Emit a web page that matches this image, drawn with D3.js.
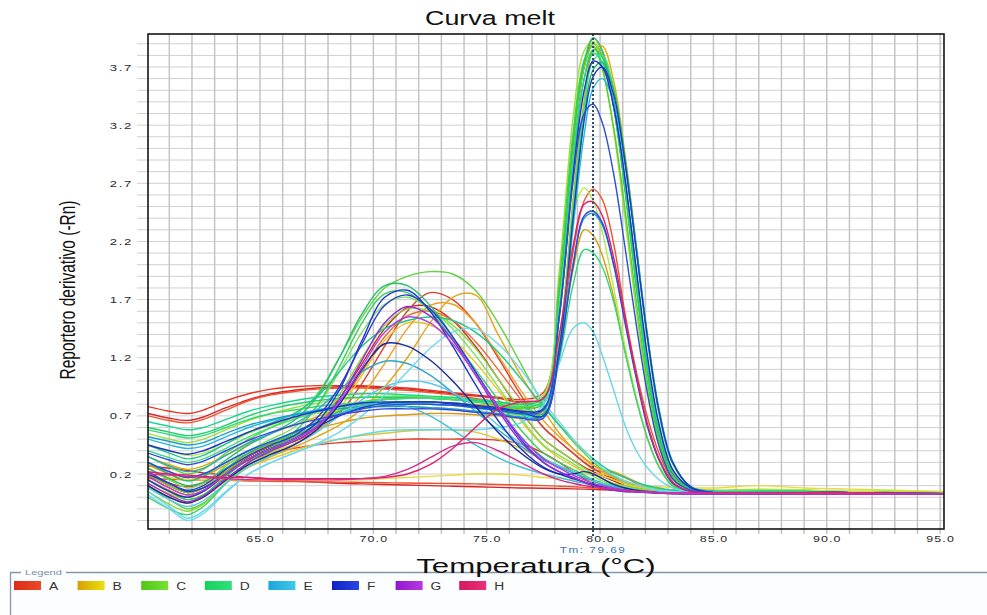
<!DOCTYPE html>
<html>
<head>
<meta charset="utf-8">
<script src="https://cdn.jsdelivr.net/npm/d3@7"></script>
<style>
  html, body { margin: 0; padding: 0; background: #fff; }
  svg { display: block; font-family: Arial, "Liberation Sans", sans-serif; }
</style>
</head>
<body>
<svg id="chart" width="987" height="615"></svg>
<script>
// Temperatures (°C) at which each well's derivative reporter is sampled
const temps = [60.06, 61, 61.8, 62.5, 63.5, 64.5, 65.5, 66.5, 67.5, 68.5, 69.5, 70.5, 71.5, 72.5, 73.5, 74.5, 75.5, 76.5,
  77.5, 78.2, 78.8, 79.3, 79.7, 80.1, 80.6, 81.1, 81.6, 82.1, 82.6,
  83.2, 84, 85, 87, 89, 91, 93, 95.17];

const rowLabels = ["A", "B", "C", "D", "E", "F", "G", "H"];
const xTicks = [65, 70, 75, 80, 85, 90, 95];
const yTicks = [0.2, 0.7, 1.2, 1.7, 2.2, 2.7, 3.2, 3.7];
const tm = 79.69;

// Derivative reporter (-Rn) per well, grouped by plate row
const wellsA = [
  [0.78,0.74,0.72,0.75,0.83,0.89,0.93,0.95,0.96,0.96,0.96,0.95,0.94,0.92,0.90,0.88,0.86,0.84, 0.90,1.75,3.00,3.72,3.95,3.84,3.38,2.66,1.82,1.08,0.54, 0.20,0.07,0.04,0.04,0.04,0.04,0.035,0.03],
  [0.72,0.68,0.66,0.69,0.77,0.84,0.89,0.92,0.94,0.95,0.95,0.94,0.93,0.91,0.89,0.87,0.85,0.82, 0.86,1.70,2.95,3.70,3.90,3.80,3.36,2.66,1.85,1.10,0.55, 0.20,0.07,0.04,0.04,0.04,0.04,0.035,0.03],
  [0.70,0.66,0.64,0.67,0.75,0.83,0.88,0.91,0.93,0.94,0.94,0.93,0.92,0.90,0.88,0.85,0.82,0.78, 0.72,1.30,2.10,2.55,2.65,2.56,2.18,1.58,1.08,0.68,0.38, 0.15,0.06,0.04,0.04,0.04,0.04,0.035,0.03],
  [0.20,0.10,0.04,0.08,0.22,0.35,0.44,0.52,0.63,0.85,1.15,1.45,1.63,1.64,1.52,1.30,1.02,0.74, 0.50,0.40,0.32,0.26,0.22,0.18,0.14,0.10,0.08,0.06,0.05, 0.045,0.04,0.04,0.035,0.035,0.03,0.03,0.03],
  [0.15,0.06,0.00,0.05,0.19,0.33,0.42,0.50,0.60,0.80,1.08,1.38,1.56,1.60,1.52,1.34,1.10,0.84, 0.60,0.48,0.38,0.30,0.24,0.22,0.21,0.17,0.12,0.08,0.06, 0.05,0.04,0.04,0.035,0.035,0.03,0.03,0.03],
  [0.20,0.10,0.04,0.08,0.20,0.32,0.41,0.48,0.57,0.72,0.98,1.30,1.60,1.76,1.70,1.50,1.20,0.88, 0.60,0.48,0.38,0.30,0.25,0.20,0.16,0.12,0.10,0.08,0.06, 0.05,0.04,0.04,0.035,0.035,0.03,0.03,0.03],
  [0.18,0.12,0.09,0.12,0.22,0.32,0.38,0.42,0.45,0.47,0.48,0.49,0.50,0.50,0.50,0.50,0.49,0.46, 0.38,0.30,0.22,0.16,0.12,0.09,0.07,0.06,0.05,0.045,0.04, 0.04,0.04,0.035,0.035,0.03,0.03,0.03,0.03],
  [0.27,0.25,0.23,0.21,0.19,0.17,0.155,0.14,0.13,0.12,0.115,0.11,0.105,0.10,0.095,0.09,0.085,0.08, 0.078,0.075,0.072,0.07,0.068,0.065,0.062,0.06,0.058,0.055,0.052, 0.05,0.048,0.045,0.042,0.04,0.038,0.035,0.03],
  [0.16,0.155,0.15,0.148,0.145,0.14,0.138,0.135,0.132,0.13,0.128,0.125,0.122,0.12,0.118,0.115,0.11,0.105, 0.10,0.095,0.09,0.085,0.08,0.075,0.07,0.065,0.06,0.058,0.055, 0.052,0.05,0.048,0.045,0.042,0.04,0.036,0.032]
];
const wellsB = [
  [0.35,0.28,0.24,0.27,0.36,0.46,0.55,0.62,0.69,0.75,0.79,0.81,0.82,0.82,0.81,0.80,0.78,0.75, 0.74,1.35,2.55,3.42,3.84,3.88,3.58,2.95,2.15,1.34,0.72, 0.29,0.09,0.06,0.06,0.06,0.05,0.05,0.04],
  [0.28,0.20,0.15,0.18,0.28,0.38,0.46,0.53,0.59,0.64,0.68,0.70,0.71,0.72,0.72,0.71,0.70,0.68, 0.70,1.25,1.95,2.30,2.25,2.08,1.72,1.25,0.84,0.50,0.26, 0.10,0.05,0.04,0.05,0.05,0.04,0.04,0.035],
  [0.10,0.00,-0.05,0.00,0.15,0.28,0.38,0.46,0.56,0.76,1.05,1.35,1.50,1.48,1.36,1.16,0.92,0.66, 0.44,0.34,0.27,0.22,0.20,0.20,0.18,0.14,0.10,0.07,0.05, 0.045,0.04,0.04,0.04,0.035,0.035,0.03,0.03],
  [0.10,0.00,-0.05,0.00,0.14,0.26,0.35,0.43,0.52,0.62,0.76,0.95,1.20,1.50,1.72,1.74,1.40,1.05, 0.75,0.55,0.42,0.34,0.28,0.22,0.17,0.13,0.10,0.08,0.07, 0.06,0.05,0.05,0.05,0.05,0.04,0.04,0.035],
  [0.18,0.08,0.02,0.06,0.20,0.33,0.42,0.50,0.58,0.70,0.88,1.15,1.45,1.65,1.66,1.50,1.22,0.92, 0.66,0.52,0.42,0.33,0.27,0.24,0.22,0.18,0.13,0.09,0.07, 0.06,0.05,0.05,0.05,0.04,0.04,0.035,0.03],
  [0.20,0.17,0.15,0.15,0.15,0.15,0.15,0.15,0.15,0.15,0.15,0.16,0.17,0.18,0.19,0.20,0.20,0.19, 0.17,0.16,0.15,0.14,0.13,0.12,0.11,0.10,0.09,0.09,0.09, 0.085,0.08,0.08,0.10,0.08,0.07,0.06,0.05],
  [0.12,0.03,-0.02,0.02,0.15,0.26,0.33,0.40,0.46,0.50,0.53,0.55,0.57,0.58,0.58,0.56,0.50,0.42, 0.32,0.26,0.22,0.20,0.20,0.18,0.15,0.12,0.10,0.08,0.07, 0.06,0.05,0.05,0.05,0.045,0.04,0.04,0.035]
];
const wellsC = [
  [0.20,0.10,0.04,0.08,0.22,0.36,0.45,0.55,0.66,0.76,0.82,0.85,0.86,0.86,0.85,0.84,0.82,0.78, 0.82,1.70,2.95,3.70,3.90,3.80,3.36,2.68,1.86,1.12,0.58, 0.22,0.08,0.05,0.05,0.05,0.045,0.04,0.035],
  [0.55,0.50,0.47,0.50,0.58,0.66,0.72,0.77,0.81,0.84,0.86,0.87,0.87,0.86,0.85,0.83,0.81,0.79, 0.88,1.95,3.25,3.84,3.92,3.70,3.15,2.40,1.60,0.92,0.45, 0.16,0.07,0.06,0.07,0.06,0.05,0.05,0.04],
  [0.10,-0.02,-0.10,-0.05,0.12,0.30,0.41,0.50,0.62,0.74,0.81,0.84,0.85,0.85,0.84,0.82,0.79,0.76, 0.84,1.85,3.12,3.76,3.88,3.68,3.18,2.48,1.68,0.98,0.48, 0.17,0.07,0.05,0.05,0.05,0.04,0.04,0.03],
  [0.45,0.40,0.36,0.38,0.46,0.55,0.62,0.68,0.72,0.75,0.77,0.78,0.78,0.77,0.76,0.74,0.72,0.72, 0.85,1.70,2.45,2.66,2.55,2.28,1.80,1.30,0.86,0.50,0.27, 0.11,0.06,0.05,0.06,0.06,0.05,0.05,0.04],
  [0.25,0.15,0.08,0.12,0.27,0.40,0.50,0.60,0.78,1.08,1.42,1.66,1.72,1.62,1.45,1.22,0.95,0.68, 0.45,0.36,0.29,0.23,0.18,0.14,0.11,0.09,0.07,0.06,0.05, 0.045,0.04,0.04,0.04,0.035,0.035,0.03,0.03],
  [0.05,-0.06,-0.12,-0.06,0.12,0.28,0.39,0.49,0.63,0.88,1.20,1.48,1.62,1.60,1.48,1.28,1.02,0.75, 0.50,0.40,0.32,0.25,0.20,0.16,0.12,0.10,0.08,0.06,0.05, 0.045,0.04,0.04,0.04,0.035,0.035,0.03,0.03],
  [0.35,0.26,0.20,0.24,0.38,0.50,0.60,0.70,0.88,1.20,1.55,1.80,1.90,1.94,1.92,1.78,1.50,1.15, 0.80,0.62,0.48,0.38,0.30,0.24,0.18,0.14,0.11,0.09,0.07, 0.06,0.05,0.05,0.05,0.045,0.04,0.04,0.035]
];
const wellsD = [
  [0.60,0.56,0.53,0.55,0.62,0.70,0.76,0.80,0.83,0.85,0.86,0.86,0.86,0.85,0.84,0.83,0.82,0.80, 0.85,1.75,3.05,3.75,3.95,3.84,3.36,2.64,1.80,1.06,0.52, 0.19,0.07,0.04,0.04,0.04,0.04,0.035,0.03],
  [0.15,0.05,-0.02,0.02,0.18,0.33,0.43,0.52,0.63,0.74,0.81,0.84,0.85,0.85,0.84,0.82,0.80,0.77, 0.80,1.60,2.80,3.60,3.85,3.78,3.40,2.74,1.94,1.16,0.60, 0.23,0.08,0.05,0.05,0.05,0.04,0.04,0.03],
  [0.65,0.61,0.58,0.60,0.67,0.74,0.79,0.83,0.86,0.88,0.89,0.89,0.88,0.87,0.86,0.84,0.82,0.80, 0.82,1.60,2.85,3.60,3.82,3.74,3.36,2.72,1.92,1.14,0.58, 0.22,0.08,0.05,0.05,0.05,0.04,0.04,0.03],
  [0.40,0.34,0.30,0.33,0.42,0.52,0.60,0.67,0.73,0.78,0.82,0.84,0.85,0.85,0.84,0.82,0.80,0.77, 0.74,1.32,2.48,3.36,3.76,3.80,3.52,2.90,2.12,1.34,0.72, 0.29,0.09,0.05,0.05,0.05,0.04,0.04,0.03],
  [0.25,0.16,0.10,0.13,0.25,0.38,0.47,0.55,0.64,0.72,0.78,0.81,0.82,0.82,0.81,0.79,0.77,0.74, 0.72,1.28,2.40,3.28,3.68,3.74,3.50,2.92,2.16,1.38,0.75, 0.30,0.09,0.05,0.05,0.05,0.04,0.04,0.03],
  [0.58,0.54,0.51,0.53,0.60,0.67,0.72,0.75,0.78,0.80,0.81,0.81,0.81,0.80,0.79,0.77,0.74,0.71, 0.70,1.18,1.82,2.13,2.10,1.98,1.68,1.25,0.84,0.50,0.26, 0.10,0.05,0.04,0.04,0.04,0.04,0.035,0.03],
  [0.30,0.20,0.14,0.18,0.32,0.45,0.55,0.66,0.86,1.20,1.58,1.82,1.82,1.65,1.38,1.08,0.78,0.52, 0.34,0.27,0.22,0.18,0.15,0.12,0.09,0.07,0.06,0.05,0.045, 0.04,0.04,0.04,0.035,0.035,0.03,0.03,0.03],
  [0.00,-0.10,-0.15,-0.08,0.12,0.30,0.43,0.56,0.78,1.12,1.50,1.75,1.76,1.60,1.36,1.10,0.84,0.58, 0.38,0.30,0.24,0.19,0.15,0.12,0.10,0.08,0.06,0.05,0.045, 0.04,0.04,0.04,0.035,0.035,0.03,0.03,0.03],
  [0.45,0.38,0.33,0.36,0.46,0.56,0.64,0.72,0.86,1.08,1.30,1.45,1.52,1.55,1.52,1.42,1.25,1.02, 0.78,0.62,0.50,0.40,0.33,0.27,0.21,0.17,0.13,0.10,0.08, 0.06,0.05,0.05,0.05,0.045,0.04,0.04,0.035]
];
const wellsE = [
  [0.50,0.45,0.42,0.44,0.52,0.60,0.66,0.71,0.75,0.78,0.80,0.81,0.81,0.80,0.79,0.77,0.75,0.72, 0.70,1.25,2.30,3.12,3.52,3.60,3.40,2.86,2.14,1.38,0.76, 0.31,0.09,0.05,0.04,0.04,0.04,0.035,0.03],
  [0.52,0.48,0.45,0.47,0.55,0.62,0.67,0.71,0.74,0.76,0.78,0.78,0.78,0.77,0.76,0.74,0.72,0.69, 0.70,1.25,2.00,2.40,2.44,2.34,2.00,1.52,1.04,0.62,0.33, 0.13,0.05,0.04,0.04,0.04,0.04,0.035,0.03],
  [0.05,-0.08,-0.18,-0.12,0.05,0.20,0.30,0.38,0.45,0.50,0.54,0.57,0.58,0.58,0.58,0.58,0.60,0.64, 0.80,1.15,1.45,1.50,1.42,1.22,0.92,0.62,0.40,0.25,0.15, 0.08,0.04,0.03,0.03,0.03,0.03,0.03,0.03],
  [0.35,0.27,0.22,0.25,0.36,0.47,0.55,0.63,0.75,0.92,1.08,1.17,1.15,1.05,0.90,0.74,0.58,0.44, 0.32,0.26,0.21,0.17,0.14,0.11,0.09,0.07,0.06,0.05,0.045, 0.04,0.04,0.04,0.035,0.035,0.03,0.03,0.03],
  [0.08,-0.02,-0.08,-0.03,0.12,0.26,0.36,0.45,0.56,0.70,0.84,0.95,1.00,0.98,0.90,0.78,0.62,0.46, 0.33,0.27,0.22,0.18,0.15,0.12,0.10,0.08,0.06,0.05,0.045, 0.04,0.04,0.04,0.035,0.035,0.03,0.03,0.03],
  [0.02,-0.10,-0.20,-0.14,0.04,0.20,0.30,0.38,0.46,0.56,0.70,0.88,1.08,1.28,1.42,1.45,1.32,1.10, 0.82,0.65,0.50,0.40,0.32,0.25,0.19,0.14,0.11,0.08,0.06, 0.05,0.045,0.04,0.04,0.035,0.035,0.03,0.03],
  [0.30,0.22,0.17,0.20,0.30,0.40,0.48,0.56,0.64,0.72,0.78,0.80,0.78,0.70,0.58,0.45,0.34,0.26, 0.20,0.17,0.14,0.12,0.10,0.09,0.07,0.06,0.05,0.045,0.04, 0.04,0.04,0.035,0.035,0.03,0.03,0.03,0.03]
];
const wellsF = [
  [0.45,0.40,0.37,0.40,0.48,0.56,0.63,0.69,0.74,0.78,0.81,0.82,0.82,0.82,0.81,0.79,0.77,0.74, 0.76,1.55,2.75,3.50,3.75,3.70,3.36,2.74,1.96,1.20,0.63, 0.24,0.08,0.04,0.04,0.04,0.04,0.035,0.03],
  [0.20,0.12,0.05,0.08,0.20,0.33,0.42,0.50,0.60,0.70,0.77,0.81,0.82,0.82,0.80,0.78,0.76,0.73, 0.70,1.28,2.38,3.24,3.62,3.70,3.46,2.88,2.12,1.36,0.74, 0.30,0.09,0.04,0.04,0.04,0.04,0.035,0.03],
  [0.30,0.22,0.17,0.20,0.30,0.40,0.48,0.56,0.64,0.71,0.76,0.79,0.80,0.80,0.79,0.77,0.75,0.72, 0.75,1.55,2.70,3.30,3.38,3.22,2.78,2.15,1.48,0.88,0.44, 0.16,0.06,0.04,0.04,0.04,0.04,0.035,0.03],
  [0.38,0.32,0.28,0.31,0.40,0.49,0.56,0.62,0.67,0.71,0.74,0.76,0.76,0.76,0.75,0.73,0.71,0.68, 0.68,1.22,1.98,2.42,2.46,2.36,2.00,1.50,1.02,0.60,0.32, 0.12,0.05,0.04,0.04,0.04,0.04,0.035,0.03],
  [0.15,0.05,0.00,0.05,0.20,0.33,0.42,0.50,0.64,0.92,1.35,1.72,1.78,1.60,1.30,0.97,0.66,0.42, 0.26,0.20,0.16,0.13,0.11,0.09,0.07,0.06,0.05,0.045,0.04, 0.035,0.03,0.03,0.03,0.03,0.03,0.03,0.03],
  [0.10,0.00,-0.05,0.00,0.15,0.28,0.37,0.45,0.58,0.80,1.10,1.32,1.30,1.18,1.00,0.78,0.56,0.38, 0.25,0.20,0.20,0.22,0.20,0.16,0.11,0.08,0.06,0.05,0.04, 0.035,0.03,0.03,0.03,0.03,0.03,0.03,0.03],
  [0.22,0.12,0.06,0.10,0.24,0.36,0.45,0.53,0.68,0.95,1.32,1.65,1.74,1.62,1.38,1.08,0.78,0.50, 0.30,0.22,0.17,0.13,0.10,0.08,0.06,0.05,0.045,0.04,0.035, 0.03,0.03,0.03,0.03,0.03,0.03,0.03,0.03]
];
const wellsG = [
  [0.12,0.02,-0.04,0.01,0.16,0.30,0.40,0.48,0.60,0.84,1.18,1.50,1.64,1.56,1.35,1.05,0.75,0.48, 0.30,0.22,0.17,0.13,0.10,0.08,0.06,0.05,0.045,0.04,0.035, 0.03,0.03,0.03,0.03,0.03,0.03,0.03,0.03],
  [0.18,0.08,0.02,0.06,0.20,0.33,0.42,0.50,0.61,0.82,1.12,1.42,1.55,1.50,1.32,1.06,0.78,0.52, 0.33,0.25,0.19,0.15,0.12,0.10,0.08,0.06,0.05,0.045,0.04, 0.035,0.03,0.03,0.03,0.03,0.03,0.03,0.03]
];
const wellsH = [
  [0.22,0.20,0.19,0.18,0.17,0.17,0.16,0.16,0.16,0.16,0.16,0.17,0.20,0.28,0.42,0.60,0.76,0.82, 0.85,1.40,2.15,2.52,2.54,2.42,2.06,1.55,1.05,0.62,0.33, 0.13,0.05,0.04,0.04,0.04,0.04,0.035,0.03],
  [0.20,0.19,0.18,0.17,0.16,0.15,0.15,0.15,0.15,0.15,0.16,0.18,0.24,0.34,0.44,0.47,0.40,0.30, 0.20,0.15,0.12,0.10,0.09,0.08,0.07,0.06,0.05,0.05,0.04, 0.04,0.04,0.035,0.035,0.03,0.03,0.03,0.03]
];

// ---- styling ----
const rowWells = [wellsA, wellsB, wellsC, wellsD, wellsE, wellsF, wellsG, wellsH];
const rowPalettes = [
  ["#e8351f", "#d9262a", "#f0522a", "#c8281e", "#e86a30", "#d84030"],
  ["#e0b000", "#d89a10", "#e8c820", "#e0a818", "#f0a020", "#ecd840", "#d8c830"],
  ["#6fd82a", "#9ae03a", "#58cc30", "#b8e84a", "#7ee05a", "#8ad840", "#62d040"],
  ["#20d070", "#30c860", "#18d890", "#40e080", "#28b868", "#30d878", "#22c070", "#38d060", "#20c888"],
  ["#22b8e0", "#1aa0c8", "#60d8e8", "#30a8c8", "#58c8e8", "#70d8f0", "#40c0d8"],
  ["#2030d0", "#1840b8", "#2a50d8", "#3048e0", "#2038c8", "#1a2a98", "#2c3cd8"],
  ["#9a28d8", "#b040e0"],
  ["#e02070", "#d03090"]
];
const legendColors = [
  ["#e02a18", "#e84a28"], ["#d9a000", "#e8e010"], ["#50c818", "#78e030"], ["#18d060", "#30e078"],
  ["#18a8d8", "#40c8e8"], ["#1020c8", "#2848e0"], ["#9018d0", "#b838e0"], ["#d81860", "#e83078"]
];

const SX = 1.38; // horizontal text stretch
const plot = { left: 148, top: 34, right: 944, bottom: 529 };

const svg = d3.select("#chart");
const x = d3.scaleLinear().domain([60.06, 95.17]).range([plot.left, plot.right]);
const y = d3.scaleLinear().domain([-0.273, 3.984]).range([plot.bottom, plot.top]);

const defs = svg.append("defs");
defs.append("clipPath").attr("id", "plotClip")
  .append("rect")
  .attr("x", plot.left).attr("y", plot.top)
  .attr("width", plot.right - plot.left).attr("height", plot.bottom - plot.top);

function stretchedText(parent, px, py, str, size, anchor, fill, sx = SX) {
  return parent.append("text")
    .attr("transform", `translate(${px},${py}) scale(${sx},1)`)
    .attr("text-anchor", anchor)
    .attr("font-size", size)
    .attr("fill", fill)
    .text(str);
}

// legend panel (drawn first so the axis title sits on top of its border)
const legend = svg.append("g");
legend.append("rect")
  .attr("x", 10).attr("y", 572).attr("width", 977).attr("height", 50)
  .attr("fill", "#fbfdff");
legend.append("path")
  .attr("d", "M10.5,615 V572.5 H21 M66,572.5 H987")
  .attr("fill", "none").attr("stroke", "#8596aa").attr("stroke-width", 1.3);
stretchedText(legend, 25, 575, "Legend", 8, "start", "#7f90a8");

rowLabels.forEach((lab, i) => {
  const grad = defs.append("linearGradient").attr("id", `lg${i}`)
    .attr("x1", "0").attr("x2", "1").attr("y1", "0").attr("y2", "0");
  grad.append("stop").attr("offset", "0").attr("stop-color", legendColors[i][0]);
  grad.append("stop").attr("offset", "1").attr("stop-color", legendColors[i][1]);
  const sx = 14 + i * 63.6;
  legend.append("rect")
    .attr("x", sx).attr("y", 581).attr("width", 27).attr("height", 9)
    .attr("fill", `url(#lg${i})`);
  stretchedText(legend, sx + 35, 590, lab, 10, "start", "#333");
});

// grid: one vertical line per degree, one horizontal line per 0.1
const gridX = d3.range(61, 96);
const gridY = d3.range(-2, 40).map(i => i / 10);

svg.append("g").selectAll("line").data(gridY).join("line")
  .attr("x1", plot.left - 11).attr("x2", plot.right)
  .attr("y1", d => y(d)).attr("y2", d => y(d))
  .attr("stroke", "#d0d0d0").attr("stroke-width", 1);

svg.append("g").selectAll("line").data(gridX).join("line")
  .attr("x1", d => x(d)).attr("x2", d => x(d))
  .attr("y1", plot.top).attr("y2", plot.bottom + 5)
  .attr("stroke", "#c4c4c4").attr("stroke-width", 1.5);

// melt curves
const line = d3.line()
  .x((d, i) => x(temps[i]))
  .y(d => y(d))
  .curve(d3.curveCatmullRom.alpha(0.5));

const curves = svg.append("g").attr("clip-path", "url(#plotClip)");
rowWells.forEach((wells, r) => {
  curves.append("g").selectAll("path").data(wells).join("path")
    .attr("d", d => line(d))
    .attr("fill", "none")
    .attr("stroke", (d, i) => rowPalettes[r][i % rowPalettes[r].length])
    .attr("stroke-width", 1.4)
    .attr("stroke-linejoin", "round");
});

// Tm marker
svg.append("line")
  .attr("x1", x(tm)).attr("x2", x(tm))
  .attr("y1", plot.top).attr("y2", plot.bottom + 7)
  .attr("stroke", "#2c4a6e").attr("stroke-width", 2)
  .attr("stroke-dasharray", "2,2");

// plot frame
svg.append("rect")
  .attr("x", plot.left).attr("y", plot.top)
  .attr("width", plot.right - plot.left).attr("height", plot.bottom - plot.top)
  .attr("fill", "none").attr("stroke", "#151515").attr("stroke-width", 1.6);

// axis labels
const xAxisG = svg.append("g")
  .attr("transform", `translate(0,${plot.bottom})`)
  .call(d3.axisBottom(x).tickValues(xTicks).tickSize(0).tickPadding(7).tickFormat(d3.format(".1f")));
xAxisG.select(".domain").remove();
xAxisG.selectAll("text")
  .attr("transform", `scale(${SX},1)`)
  .attr("font-size", 9).attr("letter-spacing", 0.8)
  .attr("font-family", "Arial, 'Liberation Sans', sans-serif")
  .attr("fill", "#2a2a2a");

const yAxisG = svg.append("g")
  .attr("transform", `translate(${plot.left},0)`)
  .call(d3.axisLeft(y).tickValues(yTicks).tickSize(0).tickPadding(0).tickFormat(d3.format(".1f")));
yAxisG.select(".domain").remove();
yAxisG.selectAll("text")
  .attr("x", -15 / SX)
  .attr("transform", `scale(${SX},1)`)
  .attr("font-size", 9.5).attr("letter-spacing", 1.2)
  .attr("font-family", "Arial, 'Liberation Sans', sans-serif")
  .attr("fill", "#2a2a2a");

// titles
stretchedText(svg, 490, 25, "Curva melt", 19.5, "middle", "#111");
stretchedText(svg, 536, 572.5, "Temperatura (°C)", 19.5, "middle", "#111", 1.6);
svg.append("text")
  .attr("transform", `translate(68,290) scale(${SX},1) rotate(-90)`)
  .attr("text-anchor", "middle")
  .attr("dy", "0.35em")
  .attr("font-size", 15.5)
  .attr("fill", "#111")
  .text("Reportero derivativo (-Rn)");

stretchedText(svg, x(tm), 552.5, `Tm: ${tm.toFixed(2)}`, 8.5, "middle", "#3a74b0")
  .attr("letter-spacing", 1.1);
</script>
</body>
</html>
